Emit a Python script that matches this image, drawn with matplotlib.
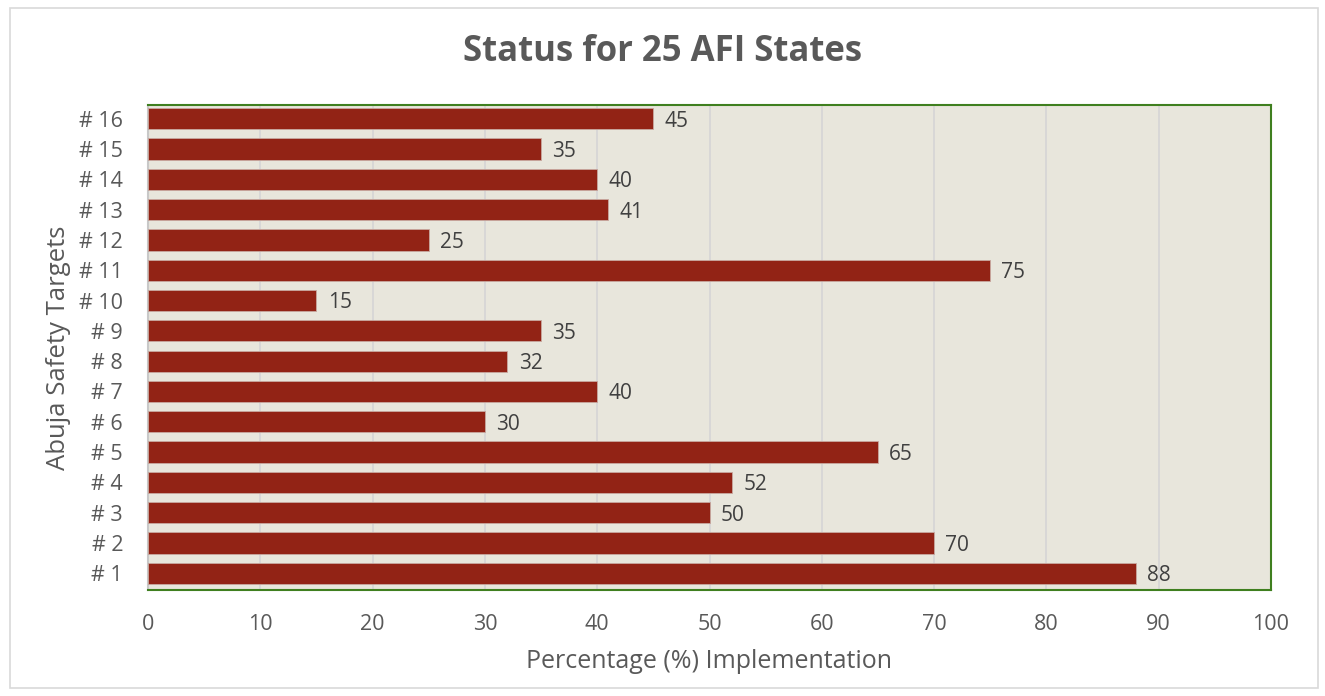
import matplotlib.pyplot as plt
from matplotlib.patches import Rectangle

targets = ['# 1', '# 2', '# 3', '# 4', '# 5', '# 6', '# 7', '# 8',
           '# 9', '# 10', '# 11', '# 12', '# 13', '# 14', '# 15', '# 16']
values = [88, 70, 50, 52, 65, 30, 40, 32, 35, 15, 75, 25, 41, 40, 35, 45]
xticks = [0, 10, 20, 30, 40, 50, 60, 70, 80, 90, 100]

plt.rcParams['font.family'] = ['Open Sans', 'DejaVu Sans']
txt = '#595959'

fig = plt.figure(figsize=(13.25, 6.96), dpi=100)
fig.patches.append(Rectangle((10 / 1325, 8 / 696), 1308 / 1325, 680 / 696,
                             transform=fig.transFigure, fill=False,
                             edgecolor='#d9d9d9', linewidth=1.2))
ax = fig.add_axes([148 / 1325, 1 - 590 / 696, 1123 / 1325, 485 / 696])
ax.set_facecolor('#e8e6dc')

ypos = range(len(targets))
bars = ax.barh(ypos, values, height=0.7, color='#922315',
               edgecolor='#c8a9a0', linewidth=0.6, zorder=3)
for b, v in zip(bars, values):
    ax.text(v + 1.0, b.get_y() + b.get_height() / 2 - 0.08, str(v), va='center',
            ha='left', fontsize=15, color='#404040', zorder=4)

ax.set_xlim(0, 100)
ax.set_ylim(-0.55, len(targets) - 0.55)
ax.set_xticks(xticks)
ax.set_yticks(list(ypos))
ax.set_yticklabels(targets)
ax.tick_params(axis='both', length=0, labelsize=15.5, colors=txt)
ax.tick_params(axis='x', pad=17)
ax.tick_params(axis='y', pad=18)
ax.grid(axis='x', color='#d5d5d5', linewidth=1.2, zorder=0)

for s in ['top', 'right', 'bottom']:
    ax.spines[s].set_color('#3f7f1f')
    ax.spines[s].set_linewidth(1.5)
ax.spines['left'].set_color('#c8c8c8')
ax.spines['left'].set_linewidth(1.5)

ax.set_xlabel('Percentage (%) Implementation', fontsize=18, color=txt, labelpad=10)
ax.set_ylabel('Abuja Safety Targets', fontsize=18.5, color=txt, labelpad=6)
fig.text(0.5, 1 - 52 / 696, 'Status for 25 AFI States', ha='center', va='center',
         fontsize=25, fontweight='bold', color=txt)

fig.savefig('out.png', dpi=100)
